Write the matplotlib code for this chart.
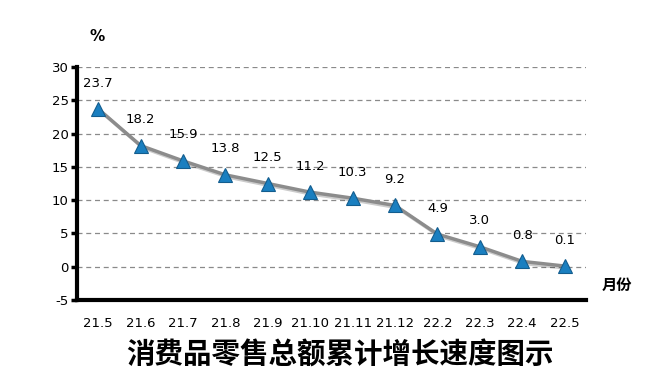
import matplotlib
matplotlib.use('Agg')
import matplotlib.pyplot as plt
import matplotlib.patheffects as pe

plt.rcParams['font.family'] = ['DejaVu Sans', 'Noto Sans CJK SC']
plt.rcParams['axes.unicode_minus'] = False

months = ['21.5', '21.6', '21.7', '21.8', '21.9', '21.10', '21.11', '21.12',
          '22.2', '22.3', '22.4', '22.5']
growth = [23.7, 18.2, 15.9, 13.8, 12.5, 11.2, 10.3, 9.2, 4.9, 3.0, 0.8, 0.1]
yticks = [-5, 0, 5, 10, 15, 20, 25, 30]

fig = plt.figure(figsize=(6.53, 3.87), dpi=100)
ax = fig.add_axes([0.118, 0.2248, 0.779, 0.602])

x = list(range(len(months)))
shadow = [pe.SimpleLineShadow(offset=(1.5, -1.5), alpha=0.2), pe.Normal()]
ax.plot(x, growth, color='#8c8c8c', lw=2.5, zorder=3, path_effects=shadow)
ax.plot(x, growth, ls='none', marker='^', ms=10, mfc='#1a7fc0', mec='#135d8e',
        mew=0.8, zorder=4)

for xi, v in zip(x, growth):
    ax.annotate(f'{v:.1f}', (xi, v), xytext=(0, 14), textcoords='offset points',
                ha='center', va='bottom', fontsize=9.5)

ax.set_xlim(-0.5, len(months) - 0.5)
ax.set_ylim(-5, 30)
ax.set_yticks(yticks)
ax.set_xticks(x)
ax.set_xticklabels(months, fontsize=9.5)
ax.tick_params(axis='x', length=0, pad=12)
ax.tick_params(axis='y', length=4, width=2.5, labelsize=9.5, pad=2)

for t in yticks[1:]:
    ax.axhline(t, color='#8a8a8a', lw=0.9, ls=(0, (4, 3)), zorder=1)

for s in ['top', 'right']:
    ax.spines[s].set_visible(False)
ax.spines['left'].set_linewidth(3)
ax.spines['bottom'].set_linewidth(3)

fig.text(0.148, 0.905, '%', fontsize=11, fontweight='bold', ha='center', va='center')
fig.text(0.945, 0.265, '月份', fontsize=11, fontweight='bold', ha='center', va='center',
         family=['Noto Sans CJK SC'])
fig.text(0.521, 0.08, '消费品零售总额累计增长速度图示', fontsize=20.5, fontweight='bold',
         ha='center', va='center', family=['Noto Sans CJK SC'])

fig.savefig('out.png', dpi=100)
